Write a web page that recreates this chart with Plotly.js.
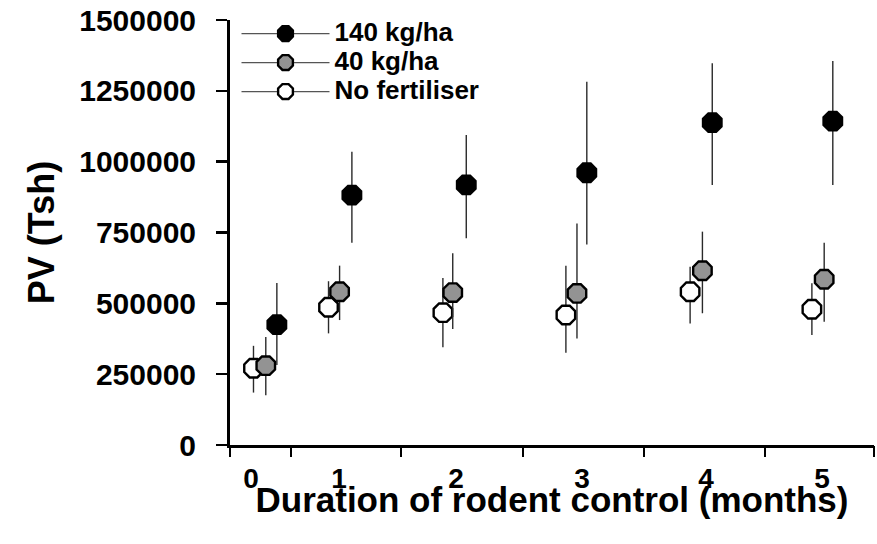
<!DOCTYPE html>
<html>
<head>
<meta charset="utf-8">
<script src="https://cdn.plot.ly/plotly-3.0.1.min.js"></script>
<style>
  html, body { margin: 0; padding: 0; background: #ffffff; }
  #chart { width: 877px; height: 544px; }
</style>
</head>
<body>
<div id="chart"></div>
<script>
// ---- data ----
// series names
const seriesNames = ["140 kg/ha", "40 kg/ha", "No fertiliser"];

// plotted x positions (months axis, as drawn in the figure; groups are dodged)
const xHigh = [0.56, 1.17, 2.10, 3.08, 4.10, 5.08];
const xMid  = [0.47, 1.07, 1.99, 3.00, 4.02, 5.01];
const xNone = [0.37, 0.98, 1.91, 2.91, 3.92, 4.91];

// PV (Tsh) means
const pvHigh = [425000, 882000, 918000, 961000, 1138000, 1143000];
const pvMid  = [280000, 541000, 538000, 535000, 615000, 585000];
const pvNone = [271000, 486000, 467000, 459000, 541000, 479000];

// error bar extents (upper / lower)
const errHighPlus  = [147000, 153000, 176000, 321000, 209000, 212000];
const errHighMinus = [143000, 168000, 188000, 253000, 220000, 225000];
const errMidPlus   = [101000, 92000, 139000, 247000, 138000, 129000];
const errMidMinus  = [104000, 100000, 129000, 159000, 150000, 150000];
const errNonePlus  = [79000, 92000, 122000, 174000, 88000, 92000];
const errNoneMinus = [86000, 92000, 122000, 133000, 112000, 91000];

// x tick labels and where they sit
const xTickText = ["0", "1", "2", "3", "4", "5"];
const xTickPos  = [0.35, 1.065, 2.016, 3.041, 4.049, 4.992];
// boundary tick marks on the x axis
const xBoundaryTicks = [0.179, 0.675, 1.569, 2.561, 3.545, 4.528, 5.415];

const yTickVals = [0, 250000, 500000, 750000, 1000000, 1250000, 1500000];

// ---- styles ----
const fills = ["#000000", "#939393", "#ffffff"];
const MSIZE = 20;
const errStyle = { color: "#2a2a2a", thickness: 1.4, width: 0 };

function dataTrace(x, y, ep, em, fill) {
  return {
    type: "scatter", mode: "markers", x: x, y: y,
    showlegend: false, hoverinfo: "x+y",
    marker: { symbol: "octagon", size: MSIZE, color: fill, line: { color: "#000", width: 2.4 } },
    error_y: Object.assign({ type: "data", symmetric: false, array: ep, arrayminus: em, visible: true }, errStyle)
  };
}
function legendTrace(name, fill) {
  return {
    type: "scatter", mode: "lines+markers", x: [null], y: [null],
    name: '<span style="font-size:26px">' + name + '</span>',
    line: { color: "#555555", width: 1.3 },
    marker: { symbol: "octagon", size: MSIZE, color: fill, line: { color: "#000", width: 2.4 } }
  };
}

const traces = [
  dataTrace(xNone, pvNone, errNonePlus, errNoneMinus, fills[2]),
  dataTrace(xMid, pvMid, errMidPlus, errMidMinus, fills[1]),
  dataTrace(xHigh, pvHigh, errHighPlus, errHighMinus, fills[0]),
  legendTrace(seriesNames[0], fills[0]),
  legendTrace(seriesNames[1], fills[1]),
  legendTrace(seriesNames[2], fills[2]),
  // carrier for the boundary tick marks and the x title
  { type: "scatter", mode: "markers", x: [null], y: [null], xaxis: "x2", showlegend: false, hoverinfo: "skip" }
];

const FONT = "Liberation Sans, Arial, Helvetica, sans-serif";
const layout = {
  width: 877, height: 544,
  margin: { l: 230, r: 3, t: 20, b: 99, pad: 0 },
  paper_bgcolor: "#ffffff", plot_bgcolor: "#ffffff",
  font: { family: FONT, color: "#000", size: 30, weight: "bold" },
  showlegend: true,
  legend: {
    x: 0.0101, y: 1.014, xanchor: "left", yanchor: "top",
    bgcolor: "rgba(0,0,0,0)", borderwidth: 0,
    font: { family: FONT, size: 20, color: "#000", weight: "bold" },
    itemwidth: 88, traceorder: "normal"
  },
  xaxis: {
    range: [0.179, 5.415], type: "linear",
    showgrid: false, zeroline: false,
    showline: true, linecolor: "#000", linewidth: 3,
    tickmode: "array", tickvals: xTickPos, ticktext: xTickText,
    ticks: "", ticklabelstandoff: 6,
    tickfont: { family: FONT, size: 28, weight: "bold", color: "#000" }
  },
  xaxis2: {
    overlaying: "x", anchor: "y", side: "bottom",
    range: [0.179, 5.415], type: "linear",
    showgrid: false, zeroline: false, showline: false,
    tickmode: "array", tickvals: xBoundaryTicks, showticklabels: false,
    ticks: "outside", ticklen: 11, tickwidth: 2.5, tickcolor: "#000",
    title: { text: "Duration of rodent control (months)", font: { family: FONT, size: 35, weight: "bold", color: "#000" }, standoff: 31 }
  },
  yaxis: {
    range: [0, 1500000], type: "linear",
    showgrid: false, zeroline: false,
    showline: true, linecolor: "#000", linewidth: 3,
    tickmode: "array", tickvals: yTickVals, ticktext: yTickVals.map(String),
    ticks: "outside", ticklen: 11, tickwidth: 2.5, tickcolor: "#000",
    ticklabelstandoff: 14,
    tickfont: { family: FONT, size: 30, weight: "bold", color: "#000" },
    title: { text: "PV (Tsh)", font: { family: FONT, size: 36, weight: "bold", color: "#000" }, standoff: 14 }
  }
};

Plotly.newPlot("chart", traces, layout, { displayModeBar: false, staticPlot: true });
</script>
</body>
</html>
